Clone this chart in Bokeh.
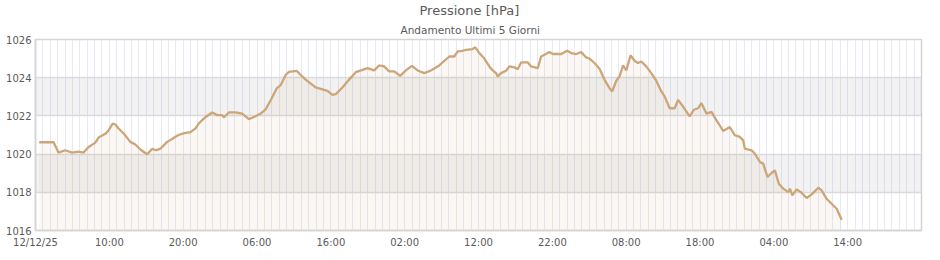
from bokeh.plotting import figure
from bokeh.models import Range1d, FixedTicker, Title
from bokeh.embed import file_html
from bokeh.resources import INLINE

# Data: hours since 12/12/25 00:00 and pressure [hPa]
hours = [0.5, 2.44, 3.12, 4.03, 4.94, 5.83, 6.51, 7.19, 8.10, 8.55, 9.46, 9.91, 10.45, 10.81,
         11.26, 11.94, 12.85, 13.53, 14.21, 15.12, 15.79, 16.34, 16.92, 17.83, 18.55, 19.36,
         20.18, 20.99, 21.67, 22.1, 22.9, 23.93, 24.61, 25.29, 25.51, 26.19, 27.10, 28.0,
         28.9, 29.81, 30.49, 31.17, 31.85, 32.66, 33.2, 33.88, 34.33, 35.37, 35.92, 36.59,
         37.95, 38.63, 39.54, 40.22, 40.67, 41.57, 42.47, 43.38, 44.29, 44.97, 45.86, 46.54,
         47.22, 47.90, 48.58, 49.39, 50.16, 50.98, 51.75, 52.65, 53.55, 54.68, 56.04, 56.72,
         57.18, 57.86, 58.30, 59.21, 59.57, 60.11, 60.79, 61.47, 61.93, 62.37, 62.60, 63.05,
         63.73, 64.18, 64.86, 65.32, 65.77, 66.68, 67.12, 68.03, 68.48, 68.93, 69.61, 70.07,
         71.20, 72.01, 72.55, 73.23, 73.91, 74.59, 75.03, 75.71, 76.39, 77.07, 77.75, 78.11,
         78.66, 79.11, 79.57, 80.01, 80.60, 81.14, 81.6, 82.05, 82.72, 83.40, 84.08, 84.76,
         85.21, 85.89, 86.57, 87.03, 87.71, 88.6, 89.15, 89.74, 90.18, 90.87, 91.55, 92.23,
         92.67, 93.13, 94.03, 94.71, 95.39, 95.85, 96.07, 96.98, 97.42, 98.10, 98.56, 99.15,
         99.69, 100.14, 100.68, 101.28, 101.96, 102.18, 102.50, 103.08, 103.67, 104.44,
         105.12, 106.03, 106.47, 107.15, 108.06, 108.51, 109.19]
pressure = [1020.62, 1020.62, 1020.08, 1020.2, 1020.08, 1020.13, 1020.08, 1020.37, 1020.6,
            1020.87, 1021.06, 1021.25, 1021.6, 1021.55, 1021.34, 1021.08, 1020.64, 1020.5,
            1020.24, 1019.99, 1020.27, 1020.2, 1020.29, 1020.64, 1020.8, 1021.0, 1021.1,
            1021.15, 1021.35, 1021.6, 1021.9, 1022.18, 1022.04, 1022.04, 1021.92, 1022.18,
            1022.18, 1022.12, 1021.83, 1021.98, 1022.12, 1022.34, 1022.82, 1023.44, 1023.61,
            1024.14, 1024.31, 1024.36, 1024.14, 1023.9, 1023.49, 1023.42, 1023.31, 1023.1,
            1023.14, 1023.49, 1023.9, 1024.29, 1024.41, 1024.5, 1024.38, 1024.64, 1024.59,
            1024.33, 1024.33, 1024.1, 1024.38, 1024.62, 1024.38, 1024.24, 1024.38, 1024.64,
            1025.11, 1025.11, 1025.38, 1025.41, 1025.46, 1025.5, 1025.59, 1025.29, 1025.0,
            1024.59, 1024.38, 1024.24, 1024.07, 1024.24, 1024.36, 1024.59, 1024.54, 1024.45,
            1024.8, 1024.8, 1024.59, 1024.5, 1025.11, 1025.2, 1025.34, 1025.24, 1025.24,
            1025.41, 1025.29, 1025.24, 1025.34, 1025.06, 1025.0, 1024.77, 1024.47, 1023.89,
            1023.45, 1023.28, 1023.84, 1024.07, 1024.64, 1024.38, 1025.17, 1024.89, 1024.77,
            1024.85, 1024.59, 1024.24, 1023.84, 1023.28, 1023.02, 1022.4, 1022.4, 1022.84,
            1022.49, 1021.97, 1022.32, 1022.4, 1022.67, 1022.12, 1022.21, 1021.77, 1021.51,
            1021.21, 1021.42, 1020.99, 1020.9, 1020.72, 1020.29, 1020.2, 1020.03, 1019.59,
            1019.5, 1018.8, 1019.01, 1019.15, 1018.45, 1018.19, 1018.01, 1018.19, 1017.84,
            1018.15, 1018.01, 1017.7, 1017.89, 1018.24, 1018.1, 1017.66, 1017.31, 1017.14,
            1016.56]

x_ticks = [0, 10, 20, 30, 40, 50, 60, 70, 80, 90, 100, 110]
x_tick_labels = ["12/12/25", "10:00", "20:00", "06:00", "16:00", "02:00", "12:00",
                 "22:00", "08:00", "18:00", "04:00", "14:00"]
y_ticks = [1016, 1018, 1020, 1022, 1024, 1026]

title_text = "Pressione [hPa]"
subtitle_text = "Andamento Ultimi 5 Giorni"

LINE = "#cca678"
FONT = "DejaVu Sans"
TXT = "#5a5a5a"

p = figure(width=940, height=260, output_backend="svg", toolbar_location=None,
           x_range=Range1d(0, 120), y_range=Range1d(1016, 1026),
           min_border_left=35, min_border_right=19, min_border_top=0, min_border_bottom=30)
p.background_fill_color = "white"
p.border_fill_color = "white"
p.outline_line_color = "#d4d4d4"
p.outline_line_width = 1.5

# grids
p.xgrid.ticker = FixedTicker(ticks=list(range(0, 121)))
p.xgrid.grid_line_color = "#e8e8f8"
p.xgrid.grid_line_width = 1
p.ygrid.ticker = FixedTicker(ticks=y_ticks)
p.ygrid.grid_line_color = "#dadada"
p.ygrid.grid_line_width = 1.5
p.ygrid.band_fill_color = "black"
p.ygrid.band_fill_alpha = 0.05

# axes
for ax in (p.xaxis[0], p.yaxis[0]):
    ax.axis_line_color = "#d4d4d4"
    ax.axis_line_width = 1.5
    ax.major_tick_in = 0
    ax.major_tick_out = 0
    ax.minor_tick_in = 0
    ax.minor_tick_out = 0
    ax.major_label_text_font = FONT
    ax.major_label_text_font_size = "10px"
    ax.major_label_text_color = TXT

p.xaxis[0].ticker = FixedTicker(ticks=x_ticks)
p.xaxis[0].major_label_overrides = {t: l for t, l in zip(x_ticks, x_tick_labels)}
p.xaxis[0].major_label_standoff = 6
p.yaxis[0].ticker = FixedTicker(ticks=y_ticks)
p.yaxis[0].major_label_standoff = 4

# area + line
p.varea(x=hours, y1=[1016] * len(hours), y2=pressure, fill_color=LINE, fill_alpha=0.08)
p.line(hours, pressure, line_color=LINE, line_width=2.3)

# titles (subtitle first: it sits closest to the plot)
p.add_layout(Title(text=subtitle_text, align="left", offset=365, standoff=8,
                   text_font=FONT, text_font_size="10.5px", text_color=TXT,
                   text_font_style="normal"), "above")
p.add_layout(Title(text=title_text, align="left", offset=384, standoff=0,
                   text_font=FONT, text_font_size="13px", text_color=TXT,
                   text_font_style="normal"), "above")

open("out.html", "w").write(file_html(p, INLINE))
